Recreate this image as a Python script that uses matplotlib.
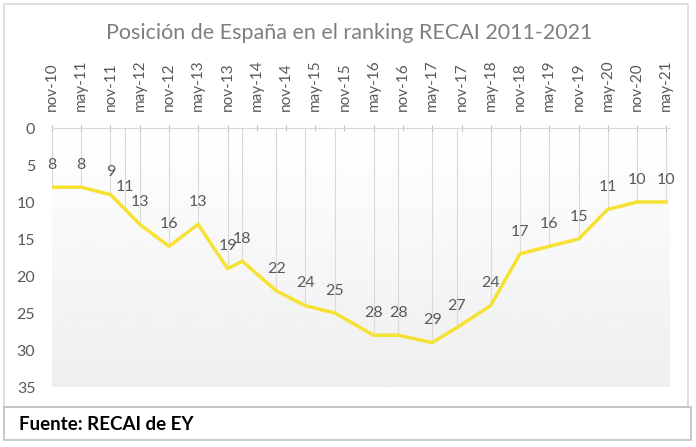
import numpy as np
import pandas as pd
import matplotlib
matplotlib.use("Agg")
import matplotlib.pyplot as plt
from matplotlib.patches import Rectangle

# RECAI editions and Spain's position
fechas = ["2010-11", "2011-05", "2011-11", "2012-02", "2012-05", "2012-11",
          "2013-05", "2013-11", "2014-02", "2014-09", "2015-03", "2015-09",
          "2016-05", "2016-10", "2017-05", "2017-10", "2018-05", "2018-11",
          "2019-05", "2019-11", "2020-05", "2020-11", "2021-05"]
posicion = [8, 8, 9, 11, 13, 16, 13, 19, 18, 22, 24, 25,
            28, 28, 29, 27, 24, 17, 16, 15, 11, 10, 10]
etiquetas = ["nov-10", "may-11", "nov-11", "may-12", "nov-12", "may-13",
             "nov-13", "may-14", "nov-14", "may-15", "nov-15", "may-16",
             "nov-16", "may-17", "nov-17", "may-18", "nov-18", "may-19",
             "nov-19", "may-20", "nov-20", "may-21"]

plt.rcParams['font.family'] = ['Lato', 'DejaVu Sans']
gris = '#595959'

fechas = pd.to_datetime(fechas)
ticks = pd.date_range("2010-11-01", periods=len(etiquetas), freq="6MS")

fig = plt.figure(figsize=(6.96, 4.47), dpi=100)
ax = fig.add_axes([0.0747, 0.1342, 0.8879, 0.5794])

# frames around chart and source box
fig.patches.append(Rectangle((4/696, 1-407/447), 684/696, 403/447, transform=fig.transFigure,
                             fill=False, edgecolor='#d9d9d9', lw=1.2))
fig.patches.append(Rectangle((4/696, 1-440/447), 687/696, 33/447, transform=fig.transFigure,
                             fill=False, edgecolor='#c0c0c0', lw=1.2))

# gradient background of the plot area
grad = np.linspace(1.0, 0.935, 100).reshape(-1, 1)
ax.imshow(grad, extent=[0, 1, 0, 1], transform=ax.transAxes, cmap='gray',
          vmin=0, vmax=1, aspect='auto', zorder=0)

ax.vlines(fechas, 0, posicion, color='#d9d9d9', lw=0.8, zorder=1)
ax.plot(fechas, posicion, color='#f5e232', lw=2.5, zorder=3)

for d, v in zip(fechas, posicion):
    ax.annotate(str(v), (d, v), xytext=(0, 16), textcoords='offset points',
                ha='center', va='center', fontsize=11.5, color=gris, zorder=4)

ax.set_xlim(pd.Timestamp("2010-11-01"), pd.Timestamp("2021-05-25"))
ax.set_ylim(35, 0)
ax.set_yticks(range(0, 36, 5))
ax.tick_params(axis='y', length=0, pad=12, labelsize=11.5, labelcolor=gris)

ax.xaxis.tick_top()
ax.set_xticks(ticks)
ax.set_xticklabels(etiquetas, rotation=90)
ax.tick_params(axis='x', direction='inout', length=4, color='#bfbfbf', pad=10,
               labelsize=11, labelcolor=gris)

for s in ['left', 'right', 'bottom']:
    ax.spines[s].set_visible(False)
ax.spines['top'].set_color('#d9d9d9')

fig.text(349/696, 1-33/447, "Posición de España en el ranking RECAI 2011-2021",
         ha='center', va='center', fontsize=15.5, color='#7f7f7f')
fig.text(19/696, 1-425/447, "Fuente: RECAI de EY", ha='left', va='center',
         fontsize=13.5, fontweight='bold', color='black')

fig.savefig("out.png", dpi=100)
